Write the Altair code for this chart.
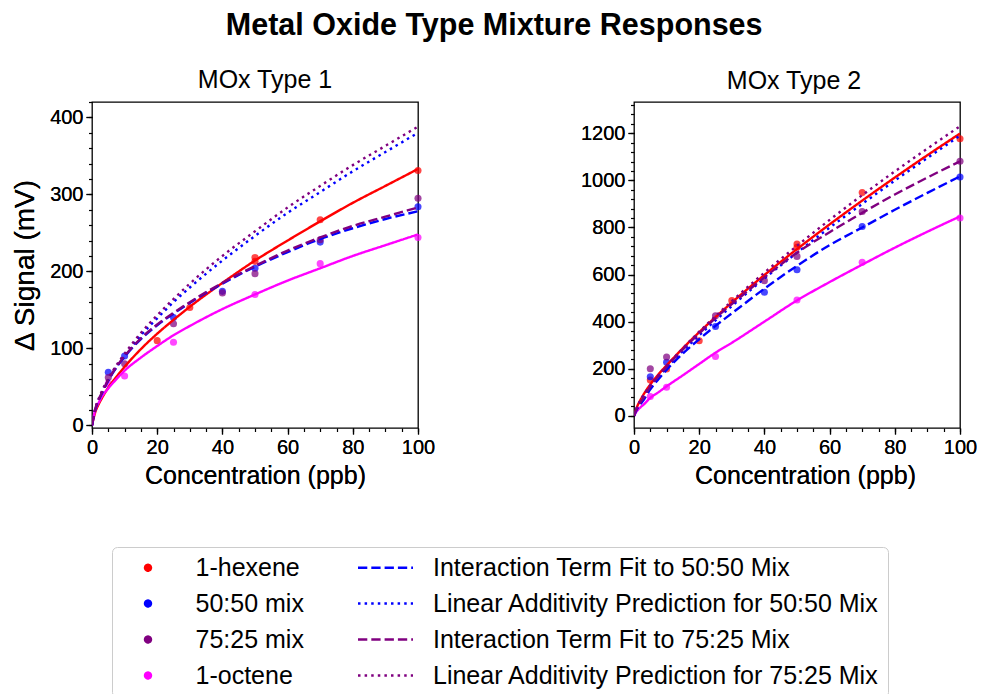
import altair as alt
import pandas as pd

# ---------------- data ----------------
PANELS = ["MOx Type 1", "MOx Type 2"]

# measured points: (x, y) per compound per panel
P1_hexene_x = [20, 30, 50, 50, 70, 100]
P1_hexene_y = [110, 153, 218, 213, 267, 331]
P1_mix50_x = [5, 10, 25, 40, 50, 70, 100]
P1_mix50_y = [69, 90, 140, 174, 204, 238, 284]
P1_mix75_x = [5, 10, 25, 40, 50, 70, 100]
P1_mix75_y = [62, 80, 132, 172, 197, 241, 295]
P1_octene_x = [5, 10, 25, 50, 70, 100]
P1_octene_y = [54, 64, 108, 170, 210, 244]

P2_hexene_x = [5, 10, 20, 30, 50, 50, 70, 100]
P2_hexene_y = [152, 199, 319, 489, 730, 716, 948, 1177]
P2_mix50_x = [5, 10, 25, 40, 50, 70, 100]
P2_mix50_y = [166, 227, 379, 525, 620, 804, 1014]
P2_mix75_x = [5, 10, 25, 40, 50, 70, 100]
P2_mix75_y = [200, 250, 425, 574, 677, 868, 1081]
P2_octene_x = [5, 10, 25, 50, 70, 100]
P2_octene_y = [82, 121, 252, 492, 652, 840]

# fitted / predicted curves sampled at these concentrations
CURVE_X = [0, 1, 2, 3, 5, 7.5, 10, 15, 20, 25, 30, 40, 50, 60, 70, 80, 90, 100]

P1_fit_hexene = [0, 17, 27, 35, 49, 63, 76, 99, 119, 137, 154, 185, 214, 240, 265, 289, 311, 333]
P1_fit_octene = [0, 20, 29, 37, 48, 60, 71, 88, 103, 117, 129, 151, 170, 188, 204, 220, 234, 248]
P1_int50 = [0, 20, 32, 41, 58, 75, 89, 112, 130, 145, 159, 184, 206, 225, 242, 256, 268, 278]
P1_lin50 = [0, 21, 33, 43, 59, 76, 90, 117, 139, 160, 179, 214, 246, 276, 303, 330, 355, 380]
P1_int75 = [0, 21, 33, 42, 59, 76, 90, 113, 131, 146, 160, 185, 207, 227, 244, 259, 271, 283]
P1_lin75 = [0, 22, 34, 44, 61, 78, 93, 120, 143, 164, 184, 220, 252, 283, 311, 338, 363, 388]

P2_fit_hexene = [0, 40, 68, 92, 133, 176, 214, 287, 355, 419, 481, 598, 708, 813, 914, 1012, 1107, 1199]
P2_fit_octene = [0, 22, 36, 48, 76, 100, 125, 172, 220, 268, 310, 400, 490, 568, 642, 714, 782, 847]
P2_int50 = [0, 30, 50, 68, 112, 155, 195, 265, 325, 382, 435, 540, 637, 725, 800, 875, 947, 1017]
P2_lin50 = [0, 38, 64, 86, 125, 166, 203, 275, 342, 405, 466, 583, 693, 799, 900, 999, 1095, 1190]
P2_int75 = [0, 35, 58, 78, 125, 168, 208, 282, 350, 415, 474, 588, 693, 780, 862, 940, 1012, 1081]
P2_lin75 = [0, 38, 65, 88, 130, 172, 212, 287, 357, 423, 487, 608, 722, 832, 937, 1038, 1135, 1230]

# legend entries (row-major, two columns)
ENTRIES = [
    "1-hexene", "Interaction Term Fit to 50:50 Mix",
    "50:50 mix", "Linear Additivity Prediction for 50:50 Mix",
    "75:25 mix", "Interaction Term Fit to 75:25 Mix",
    "1-octene", "Linear Additivity Prediction for 75:25 Mix",
]
ENTRY_COLORS = ["#ff0000", "#0000ff", "#0000ff", "#0000ff",
                "#800080", "#800080", "#ff00ff", "#800080"]
ENTRY_DASH = [[1, 0], [9.3, 4], [1, 0], [2.5, 4.1], [1, 0], [9.3, 4], [1, 0], [2.5, 4.1]]

# ---------------- tables ----------------
pt_rows = []
for panel, sets in [
    ("MOx Type 1", [("1-hexene", P1_hexene_x, P1_hexene_y), ("50:50 mix", P1_mix50_x, P1_mix50_y),
                    ("75:25 mix", P1_mix75_x, P1_mix75_y), ("1-octene", P1_octene_x, P1_octene_y)]),
    ("MOx Type 2", [("1-hexene", P2_hexene_x, P2_hexene_y), ("50:50 mix", P2_mix50_x, P2_mix50_y),
                    ("75:25 mix", P2_mix75_x, P2_mix75_y), ("1-octene", P2_octene_x, P2_octene_y)]),
]:
    for name, xs, ys in sets:
        for xv, yv in zip(xs, ys):
            pt_rows.append({"panel": panel, "series": name, "x": xv, "y": yv})
points = pd.DataFrame(pt_rows)

cv_rows = []
for panel, sets in [
    ("MOx Type 1", [("1-hexene", P1_fit_hexene), ("1-octene", P1_fit_octene),
                    (ENTRIES[1], P1_int50), (ENTRIES[3], P1_lin50),
                    (ENTRIES[5], P1_int75), (ENTRIES[7], P1_lin75)]),
    ("MOx Type 2", [("1-hexene", P2_fit_hexene), ("1-octene", P2_fit_octene),
                    (ENTRIES[1], P2_int50), (ENTRIES[3], P2_lin50),
                    (ENTRIES[5], P2_int75), (ENTRIES[7], P2_lin75)]),
]:
    for name, ys in sets:
        for xv, yv in zip(CURVE_X, ys):
            cv_rows.append({"panel": panel, "series": name, "x": xv, "y": yv})
curves = pd.DataFrame(cv_rows)

FONT = "Liberation Sans"

color_scale = alt.Scale(domain=ENTRIES, range=ENTRY_COLORS)
dash_scale = alt.Scale(domain=ENTRIES, range=ENTRY_DASH)

legend = alt.Legend(
    title=None, orient="none", legendX=20, legendY=445, columns=2, direction="horizontal",
    labelFont=FONT, labelFontSize=25, labelColor="black", labelLimit=700,
    labelOffset=35, symbolOffset=15.5, rowPadding=10, columnPadding=53.5, clipHeight=25,
    padding=8, strokeColor="#cccccc", fillColor="white", cornerRadius=5,
    symbolStrokeWidth=2.4, symbolOpacity=1,
    symbolType=alt.ExprRef(expr="datum.index % 2 ? 'stroke' : 'circle'"),
    symbolSize=alt.ExprRef(expr="datum.index % 2 ? 3025 : 36"),
)

X_MAJOR = [0, 20, 40, 60, 80, 100]
X_MINOR = [v for v in range(0, 101, 5)]


def panel(name, ydom, ymajor, yminor, ytitle, title_dx, xtitle_x):
    xs = alt.Scale(domain=[0, 100], nice=False, zero=False)
    ys = alt.Scale(domain=ydom, nice=False, zero=False)
    xax = alt.Axis(values=X_MAJOR, title="Concentration (ppb)", orient="bottom",
                   labelFlush=False, labelOverlap=False, format="d", titleX=xtitle_x)
    yax = alt.Axis(values=ymajor, title=ytitle if ytitle else None, orient="left",
                   labelOverlap=False, format="d", titlePadding=10, titleFontSize=28)
    pts = alt.Chart(points[points.panel == name]).mark_circle(size=50, opacity=0.72).encode(
        x=alt.X("x:Q", scale=xs, axis=xax),
        y=alt.Y("y:Q", scale=ys, axis=yax),
        color=alt.Color("series:N", scale=color_scale, legend=legend),
    )
    lines = alt.Chart(curves[curves.panel == name]).mark_line(
        strokeWidth=2.4, interpolate="monotone", clip=True, strokeCap="butt"
    ).encode(
        x=alt.X("x:Q", scale=xs, axis=xax),
        y=alt.Y("y:Q", scale=ys, axis=yax),
        color=alt.Color("series:N", scale=color_scale, legend=legend),
        strokeDash=alt.StrokeDash("series:N", scale=dash_scale, legend=legend),
    )
    minor = alt.Chart(points[points.panel == name]).mark_point(opacity=0).encode(
        x=alt.X("x:Q", scale=xs, axis=alt.Axis(values=X_MINOR, labels=False, tickSize=3.5,
                                              title=None, orient="bottom", domain=False)),
        y=alt.Y("y:Q", scale=ys, axis=alt.Axis(values=yminor, labels=False, tickSize=3.5,
                                              title=None, orient="left", domain=False)),
    )
    return alt.layer(pts, lines, minor).resolve_axis(x="independent", y="independent").properties(
        width=326, height=326,
        title=alt.TitleParams(name, fontSize=25, fontWeight="normal", font=FONT, color="black",
                              offset=8, dx=title_dx),
    )


left = panel("MOx Type 1", [-3.5, 420], [0, 100, 200, 300, 400],
             list(range(0, 421, 20)), "Δ Signal (mV)", 10, 163)
right = panel("MOx Type 2", [-52, 1333], [0, 200, 400, 600, 800, 1000, 1200],
              list(range(0, 1321, 40)), None, -3, 171)

chart = alt.hconcat(left, right, spacing=143).resolve_scale(
    color="shared", strokeDash="shared"
).properties(
    padding={"left": 2, "right": 0, "top": 3, "bottom": 0},
    title=alt.TitleParams("Metal Oxide Type Mixture Responses", fontSize=30.5, fontWeight="bold",
                          font=FONT, anchor="middle", color="black", offset=26),
).configure_view(
    stroke="black", strokeWidth=1.3
).configure_axis(
    labelFont=FONT, labelFontSize=20, labelColor="black", titleFont=FONT, titleFontSize=25,
    titleFontWeight="normal", titleColor="black", tickColor="black", tickWidth=1.2, tickSize=6,
    domain=False, grid=False, labelPadding=3, titlePadding=6,
)

chart.save("out.html", embed_options={"renderer": "svg", "actions": False})
